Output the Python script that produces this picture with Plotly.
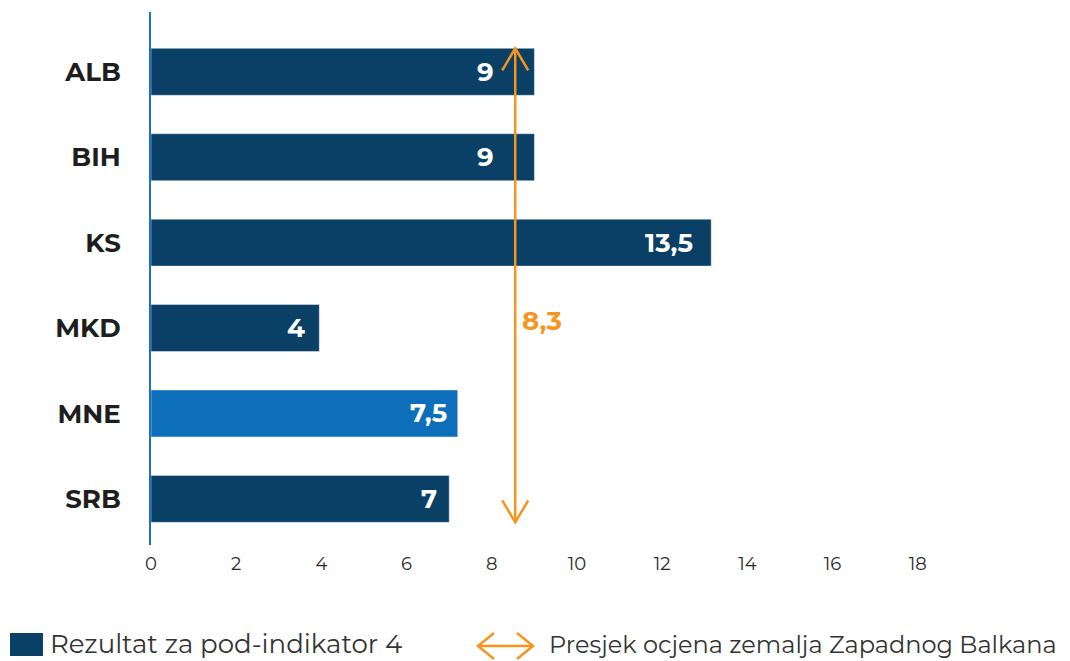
import plotly.graph_objects as go

categories = ["ALB", "BIH", "KS", "MKD", "MNE", "SRB"]
# bar lengths as drawn in the picture (labels below are the printed values)
values = [9.0, 9.0, 13.15, 3.95, 7.2, 7.0]
value_labels = ["9", "9", "13,5", "4", "7,5", "7"]
highlight = "MNE"
average_value = 8.3
average_label = "8,3"
arrow_pos = 8.55
tick_vals = [0, 2, 4, 6, 8, 10, 12, 14, 16, 18]
tick_text = ["0", "2", "4", "6", "8", "10", "12", "14", "16", "18"]
legend_bar = "Rezultat za pod-indikator 4"
legend_avg = "Presjek ocjena zemalja Zapadnog Balkana"

NAVY = "#0a3f66"
LIGHT = "#0d6fba"
ORANGE = "#f7941d"
FONT = "Montserrat, Inter, 'Open Sans', sans-serif"

colors = [LIGHT if c == highlight else NAVY for c in categories]
label_shift = [-38, -38, -16, -12, -9, -10]

# page has 8px body margin: compensate
OFF = 8
FW, FH = 1070 - OFF, 661 - OFF

fig = go.Figure()
fig.add_trace(go.Bar(
    y=categories, x=values, orientation="h", marker_color=colors,
    width=0.55, showlegend=False, hoverinfo="skip",
))

for c, v, t, s in zip(categories, values, value_labels, label_shift):
    fig.add_annotation(x=v, y=c, text="<b>%s</b>" % t, showarrow=False,
                       xanchor="right", xshift=s,
                       font=dict(family=FONT, size=26, color="white"))

# average arrow
half = 0.55 / 2
fig.add_shape(type="line", x0=arrow_pos, x1=arrow_pos, y0=-half, y1=len(categories) - 1 + half,
              xref="x", yref="y", line=dict(color=ORANGE, width=2.5))
fig.add_shape(type="path", xref="x", yref="y", xsizemode="pixel", ysizemode="pixel",
              xanchor=arrow_pos, yanchor=-half, path="M-13,-22 L0,0 L13,-22",
              line=dict(color=ORANGE, width=2.5))
fig.add_shape(type="path", xref="x", yref="y", xsizemode="pixel", ysizemode="pixel",
              xanchor=arrow_pos, yanchor=len(categories) - 1 + half, path="M-13,22 L0,0 L13,22",
              line=dict(color=ORANGE, width=2.5))
fig.add_annotation(x=arrow_pos, y=2.92, text="<b>%s</b>" % average_label, showarrow=False,
                   xanchor="left", xshift=5, font=dict(family=FONT, size=26, color=ORANGE))

# legend (manual), coordinates in target picture pixels
W, H, L, T = 852, 533, 151, 12
def px(x): return (x - L) / W
def py(y): return (T + H - y) / H

fig.add_shape(type="rect", xref="paper", yref="paper", x0=px(10), x1=px(43), y0=py(656), y1=py(633),
              fillcolor=NAVY, line=dict(width=0))
fig.add_annotation(xref="paper", yref="paper", x=px(48), y=py(644), text=legend_bar, showarrow=False,
                   xanchor="left", yanchor="middle", font=dict(family=FONT, size=26, color="#333333"))
fig.add_shape(type="line", xref="paper", yref="paper", x0=px(478), x1=px(533), y0=py(646), y1=py(646),
              line=dict(color=ORANGE, width=2.5))
fig.add_shape(type="path", xref="paper", yref="paper", xsizemode="pixel", ysizemode="pixel",
              xanchor=px(478), yanchor=py(646), path="M16,13 L0,0 L16,-13",
              line=dict(color=ORANGE, width=2.5))
fig.add_shape(type="path", xref="paper", yref="paper", xsizemode="pixel", ysizemode="pixel",
              xanchor=px(533), yanchor=py(646), path="M-16,13 L0,0 L-16,-13",
              line=dict(color=ORANGE, width=2.5))
fig.add_annotation(xref="paper", yref="paper", x=px(547), y=py(644), text=legend_avg, showarrow=False,
                   xanchor="left", yanchor="middle", font=dict(family=FONT, size=24, color="#333333"))

fig.update_layout(
    width=FW, height=FH,
    margin=dict(l=L - OFF, r=1070 - L - W, t=T - OFF, b=661 - T - H),
    plot_bgcolor="white", paper_bgcolor="white",
    xaxis=dict(range=[0, 20], tickvals=tick_vals, ticktext=tick_text, showgrid=False,
               zeroline=False, showline=False, ticks="", ticklabelstandoff=6,
               tickfont=dict(family=FONT, size=18, color="#2a2a2a")),
    yaxis=dict(autorange=False, range=[5.54, -0.70], showgrid=False, zeroline=False,
               showline=True, linecolor="#1a73c0", linewidth=2, ticks="",
               tickfont=dict(family=FONT, size=26, color="#1e1e1e"), ticklabelstandoff=23),
    font=dict(family=FONT),
)
fig.update_yaxes(tickprefix="<b>", ticksuffix="</b>")

fig.write_html("out.html")
